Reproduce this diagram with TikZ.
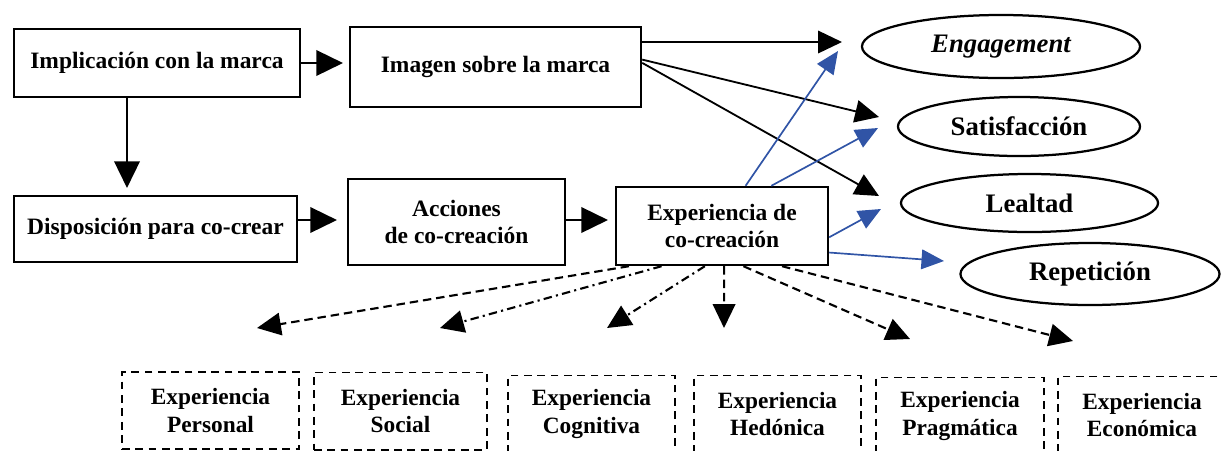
\documentclass[tikz,border=0pt]{standalone}
\usepackage{fontspec}
\setmainfont{Liberation Serif}
\usetikzlibrary{arrows.meta,calc,shapes.geometric}
\definecolor{azul}{rgb}{0.19,0.33,0.65}

\begin{document}
\begin{tikzpicture}[x=0.025cm, y=-0.025cm,
box/.style = {draw, line width=1.7pt, align=center, inner sep=0pt,
              font=\fontsize{16.7}{19.5}\selectfont\bfseries},
oval/.style = {draw, ellipse, line width=1.6pt, inner sep=0pt,
               font=\fontsize{19}{22}\selectfont\bfseries},
subbox/.style = {draw, line width=1.4pt, dash pattern=on 5.5pt off 4pt,
                 align=center, inner sep=0pt, minimum height=1.925cm,
                 font=\fontsize{16.6}{19.5}\selectfont\bfseries},
tip/.style = {-{Triangle[length=17pt,width=16pt]}},
arr/.style = {tip, line width=1.3pt},
thk/.style = {-{Triangle[length=19pt,width=18pt]}, line width=2pt},
blu/.style = {azul, line width=1.2pt, -{Triangle[length=16pt,width=14pt]}},
dsh/.style = {tip, line width=1.5pt, dash pattern=on 6pt off 3.5pt},
dsd/.style = {tip, line width=1.5pt, dash pattern=on 6pt off 3pt on 1.5pt off 3pt}
                    ]
\useasboundingbox (0,0) rectangle (1223,450);
%
\node[box, minimum width=7.15cm, minimum height=1.7cm] (impl) at (157,63) {Implicación con la marca};
\node[box, minimum width=7.275cm, minimum height=2cm] (img) at (495.5,67) {Imagen sobre la marca};
\node[box, minimum width=7.075cm, minimum height=1.65cm] (disp) at (155.5,229) {Disposición para co-crear};
\node[box, minimum width=5.425cm, minimum height=2.15cm] (acc) at (456.5,222) {Acciones\\de co-creación};
\node[box, minimum width=5.3cm, minimum height=1.95cm] (exp) at (722,226) {Experiencia de\\co-creación};

\node[oval, minimum width=6.95cm, minimum height=1.575cm] (eng) at (1001,46.5) {\itshape Engagement};
\node[oval, minimum width=6.05cm, minimum height=1.475cm] (sat) at (1019,126.5) {Satisfacción};
\node[oval, minimum width=6.425cm, minimum height=1.45cm] (lea) at (1029.5,203) {Lealtad};
\node[oval, minimum width=6.475cm, minimum height=1.55cm] (rep) at (1090,274) {Repetición};

\foreach \n/\cx/\cy/\w/\t in {per/210.5/410.5/4.425/Personal, soc/400.5/411/4.325/Social,
        cog/591.5/414/4.175/Cognitiva, hed/777.5/414/4.175/Hedónica,
        pra/960/416/4.2/Pragmática, eco/1142/415/4.2/Económica}
    \node[subbox, minimum width=\w cm] (\n) at (\cx,\cy) {Experiencia\\\t};

\coordinate (a1) at (343,63);
\coordinate (a2) at (127,188);
\coordinate (a3) at (337,220);
\coordinate (a4) at (608,220);
\draw[thk] (impl.east |- a1) -- (a1);
\draw[thk] (impl.south -| a2) -- (a2);
\draw[thk] (disp.east |- a3) -- (a3);
\draw[thk] (acc.east |- a4) -- (a4);

\coordinate (e1) at (842,42);
\coordinate (e2) at (879,117);
\coordinate (e3) at (879,196);
\draw[arr] (img.east |- e1) -- (e1);
\draw[arr] ($(img.north east)!0.41!(img.south east)$) -- (e2);
\draw[arr] ($(img.north east)!0.45!(img.south east)$) -- (e3);

\coordinate (b1) at (838,51);
\coordinate (b2) at (878,128);
\coordinate (b3) at (881,209);
\coordinate (b4) at (944,261);
\draw[blu] ($(exp.north west)!0.61!(exp.north east)$) -- (b1);
\draw[blu] ($(exp.north west)!0.73!(exp.north east)$) -- (b2);
\draw[blu] ($(exp.north east)!0.64!(exp.south east)$) -- (b3);
\draw[blu] ($(exp.north east)!0.83!(exp.south east)$) -- (b4);

\foreach \i/\f/\tx/\ty/\s in {1/0.066/257/328/dsh, 2/0.218/440/328/dsd, 3/0.42/607/328/dsd,
        4/0.51/724/328/dsh, 5/0.60/910/339/dsh, 6/0.78/1073/341/dsh}
{
    \coordinate (d\i) at (\tx,\ty);
    \draw[\s] ($(exp.south west)!\f!(exp.south east)$) -- (d\i);
}
\end{tikzpicture}
\end{document}
